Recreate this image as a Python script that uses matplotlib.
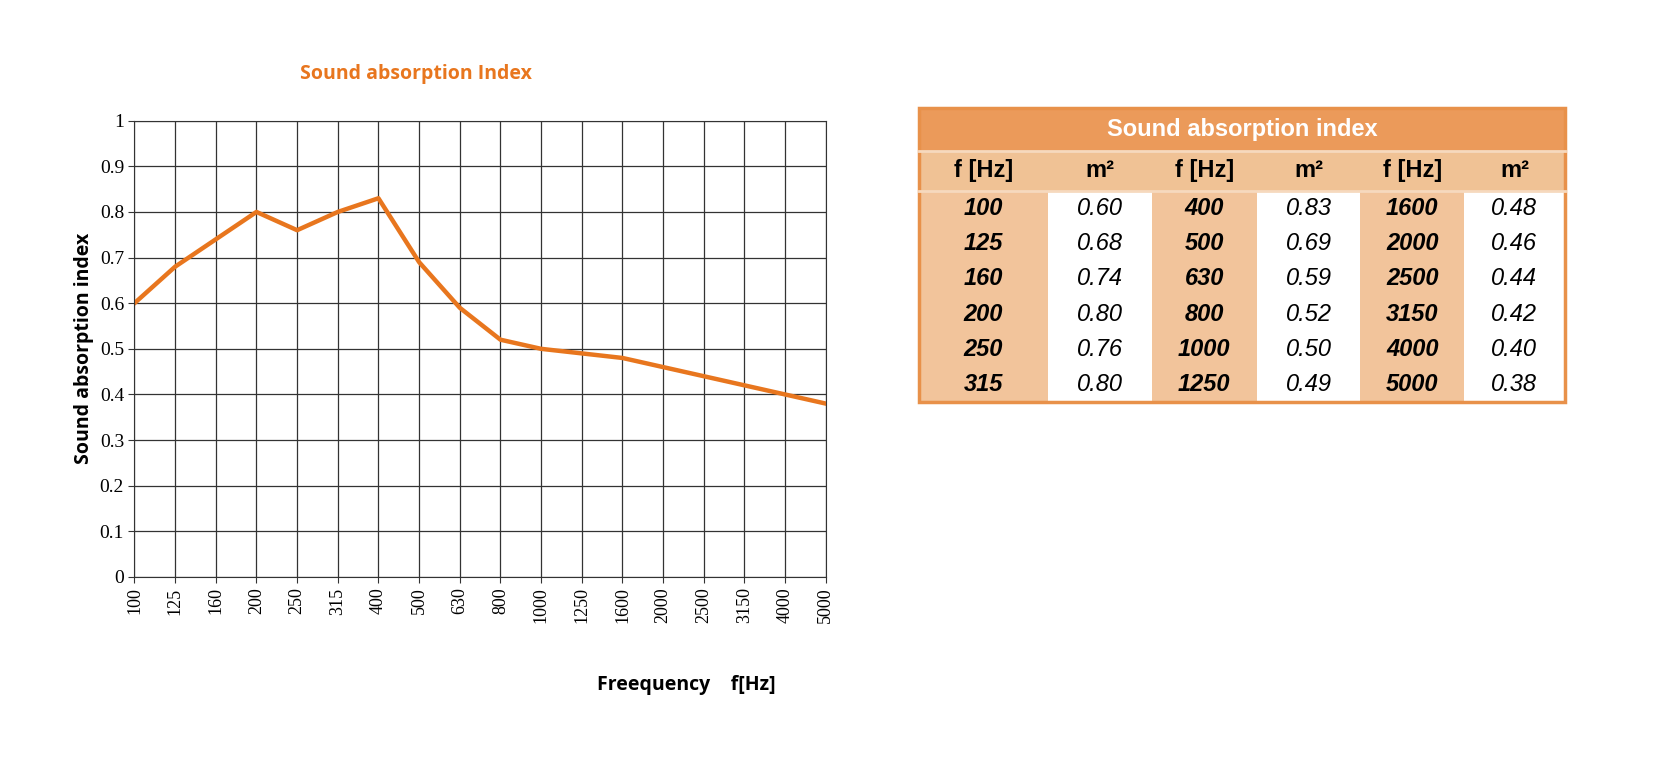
import matplotlib
matplotlib.use("Agg")
import matplotlib.pyplot as plt
from matplotlib.patches import Rectangle

freqs = ["100","125","160","200","250","315","400","500","630","800","1000","1250","1600","2000","2500","3150","4000","5000"]
values = [0.60,0.68,0.74,0.80,0.76,0.80,0.83,0.69,0.59,0.52,0.50,0.49,0.48,0.46,0.44,0.42,0.40,0.38]

W, H = 1660, 782
S = 1660/1568
fig = plt.figure(figsize=(W/100, H/100), dpi=100)

ax = fig.add_axes([127*S/W, 1-545*S/H, 653*S/W, 431*S/H])
x = list(range(len(freqs)))
ax.plot(x, values, color="#E8761E", lw=3.2)
ax.set_xlim(0, len(freqs)-1)
ax.set_ylim(0, 1)
ax.set_xticks(x)
ax.set_xticklabels(freqs, rotation=90, fontfamily="Liberation Serif", fontsize=13)
ax.set_yticks([i/10 for i in range(11)])
ax.set_yticklabels(["0"]+[f"0.{i}" for i in range(1,10)]+["1"], fontfamily="Liberation Serif", fontsize=14)
ax.grid(True, color="#333333", lw=0.9)
for s in ax.spines.values():
    s.set_color("#333333")
ax.tick_params(length=4, color="#333333")
ax.set_ylabel("Sound absorption index", fontfamily="Open Sans", fontweight="bold", fontsize=14)
fig.text(648*S/W, 1-647*S/H, "Freequency    f[Hz]", fontfamily="Open Sans", fontweight="bold", fontsize=14, ha="center", va="center")
fig.text(393*S/W, 1-70*S/H, "Sound absorption Index", fontfamily="Open Sans", fontweight="bold", fontsize=14, color="#E8761E", ha="center", va="center")

# table
tax = fig.add_axes([0, 0, 1, 1])
tax.set_xlim(0, W); tax.set_ylim(H, 0); tax.axis("off")
cols = [c*S for c in [868, 990, 1088, 1187, 1285, 1383, 1478]]
top, t1, t2, bot = [v*S for v in (102, 143, 180, 380)]
title_c, head_c, fcell_c, border_c = "#EB9A5A", "#F0C295", "#F2C49B", "#E8914A"
tax.add_patch(Rectangle((cols[0], top), cols[-1]-cols[0], t1-top, fc=title_c, ec="none"))
tax.add_patch(Rectangle((cols[0], t1), cols[-1]-cols[0], t2-t1, fc=head_c, ec="none"))
tax.text((cols[0]+cols[-1])/2, (top+t1)/2, "Sound absorption index", color="white", fontweight="bold",
         fontfamily="Liberation Sans", fontsize=17, ha="center", va="center")
headers = ["f [Hz]", "m²"]*3
for i in range(6):
    tax.text((cols[i]+cols[i+1])/2, (t1+t2)/2, headers[i], fontweight="bold", fontfamily="Liberation Sans",
             fontsize=17, ha="center", va="center")
rh = (bot-t2)/6
for c in range(3):
    fx0, fx1, vx1 = cols[2*c], cols[2*c+1], cols[2*c+2]
    tax.add_patch(Rectangle((fx0, t2), fx1-fx0, bot-t2, fc=fcell_c, ec="none"))
    for r in range(6):
        k = c*6 + r
        yc = t2 + rh*(r+0.5)
        tax.text((fx0+fx1)/2, yc, freqs[k], fontweight="bold", style="italic", fontfamily="Liberation Sans",
                 fontsize=17, ha="center", va="center")
        tax.text((fx1+vx1)/2, yc, f"{values[k]:.2f}", style="italic", fontfamily="Liberation Sans",
                 fontsize=17, ha="center", va="center")
for y in [t1, t2]:
    tax.plot([cols[0], cols[-1]], [y, y], color="#F6D9BE", lw=2)
tax.add_patch(Rectangle((cols[0], top), cols[-1]-cols[0], bot-top, fc="none", ec=border_c, lw=2.5))

fig.savefig("out.png", dpi=100, facecolor="white")
